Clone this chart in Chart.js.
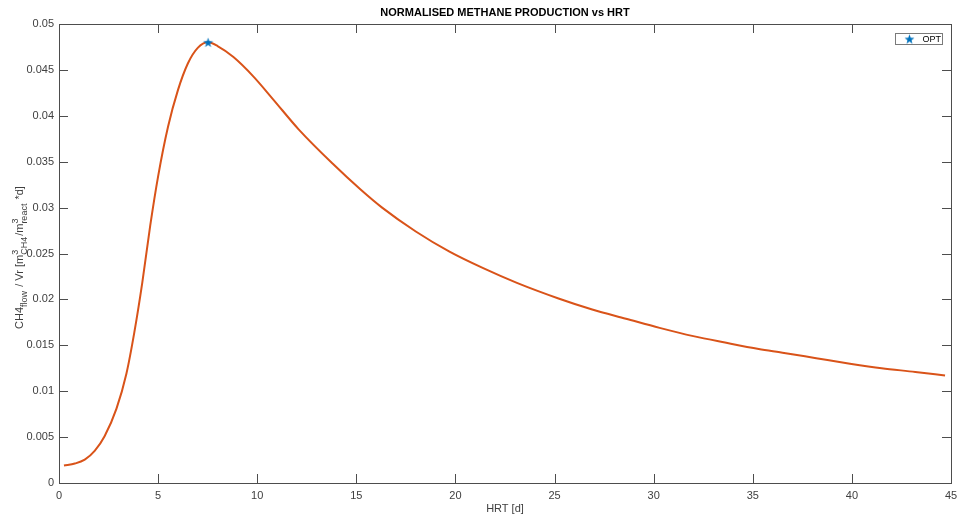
<!DOCTYPE html>
<html>
<head>
<meta charset="utf-8">
<title>Normalised methane production vs HRT</title>
<script src="https://cdn.jsdelivr.net/npm/chart.js@4.4.0/dist/chart.umd.min.js"></script>
<style>
  html, body { margin: 0; padding: 0; background: #fff; }
  #wrap { width: 957px; height: 515px; }
</style>
</head>
<body>
<div id="wrap"><canvas id="chart" width="957" height="515"></canvas></div>
<script>
// hydraulic retention time [d] and normalised CH4 production
const hrtDays = [0.25, 0.8, 1.3, 1.8, 2.3, 2.9, 3.4, 3.8, 4.2, 4.6, 5.0, 5.5, 6.0, 6.5, 7.0, 7.52,
  8.0, 8.8, 9.8, 10.8, 12.1, 13.8, 15.2, 16.3, 18.0, 19.7, 21.4, 23.1, 25.2, 26.9, 28.6,
  30.3, 32.0, 33.6, 35.3, 36.5, 38.2, 39.9, 41.5, 43.2, 44.7];
const methaneRate = [0.0019, 0.00212, 0.00255, 0.0035, 0.0051, 0.0081, 0.0119, 0.0164, 0.0218, 0.0280,
  0.0334, 0.0388, 0.0428, 0.0457, 0.0474, 0.0480,
  0.0476, 0.0464, 0.0443, 0.0418, 0.0385, 0.0348, 0.0320, 0.0300, 0.0274, 0.0252, 0.0234, 0.0218,
  0.0201, 0.0189, 0.0179, 0.0169, 0.0160, 0.0153, 0.0146, 0.0142, 0.0136, 0.0130, 0.0125, 0.0121, 0.0117];

// optimum point
const optHrt = [7.52];
const optRate = [0.0480];

const xTickValues = [0, 5, 10, 15, 20, 25, 30, 35, 40, 45];
const yTickValues = [0, 0.005, 0.01, 0.015, 0.02, 0.025, 0.03, 0.035, 0.04, 0.045, 0.05];

const AXIS_COLOR = "#4d4d4d";
const TEXT_COLOR = "#404040";
const LINE_COLOR = "#D95319";
const MARK_COLOR = "#0072BD";
const FONT = "'Liberation Sans', Arial, Helvetica, sans-serif";
const TITLE = "NORMALISED METHANE PRODUCTION vs HRT";

// filled pentagram used as the point style
function makeStar(size, color) {
  const c = document.createElement("canvas");
  c.width = size;
  c.height = size;
  const g = c.getContext("2d");
  const cx = size / 2, cy = size / 2 + 0.5;
  const R = size / 2 - 0.3, r = R * 0.4;
  g.beginPath();
  for (let i = 0; i < 10; i++) {
    const rad = i % 2 === 0 ? R : r;
    const a = -Math.PI / 2 + i * Math.PI / 5;
    const px = cx + rad * Math.cos(a), py = cy + rad * Math.sin(a);
    if (i === 0) g.moveTo(px, py); else g.lineTo(px, py);
  }
  g.closePath();
  g.fillStyle = color;
  g.fill();
  return c;
}
const starImg = makeStar(11, MARK_COLOR);

// title centred over the plot area
const plotTitle = {
  id: "plotTitle",
  afterDraw(chart) {
    const { ctx, chartArea: a } = chart;
    ctx.save();
    ctx.fillStyle = "#000";
    ctx.font = "bold 11px " + FONT;
    ctx.textAlign = "center";
    ctx.textBaseline = "middle";
    ctx.fillText(TITLE, (a.left + a.right) / 2, 12.5);
    ctx.restore();
  }
};

// box around the plot with inward ticks on all four sides
const axesBox = {
  id: "axesBox",
  afterDraw(chart) {
    const { ctx, chartArea: a, scales } = chart;
    const tl = 9;
    ctx.save();
    ctx.strokeStyle = AXIS_COLOR;
    ctx.lineWidth = 1;
    ctx.beginPath();
    xTickValues.forEach((v) => {
      const px = Math.round(scales.x.getPixelForValue(v)) + 0.5;
      ctx.moveTo(px, a.bottom); ctx.lineTo(px, a.bottom - tl);
      ctx.moveTo(px, a.top); ctx.lineTo(px, a.top + tl);
    });
    yTickValues.forEach((v) => {
      const py = Math.round(scales.y.getPixelForValue(v)) + 0.5;
      ctx.moveTo(a.left, py); ctx.lineTo(a.left + tl, py);
      ctx.moveTo(a.right, py); ctx.lineTo(a.right - tl, py);
    });
    ctx.stroke();
    ctx.strokeRect(Math.round(a.left) + 0.5, Math.round(a.top) + 0.5,
      Math.round(a.right - a.left), Math.round(a.bottom - a.top));

    // legend box, top right
    const lw = 47, lh = 11;
    const lx = Math.round(a.right - 9 - lw) + 0.5, ly = Math.round(a.top + 9) + 0.5;
    ctx.fillStyle = "#fff";
    ctx.fillRect(lx, ly, lw, lh);
    ctx.strokeStyle = "#7a7a7a";
    ctx.strokeRect(lx, ly, lw, lh);
    ctx.drawImage(starImg, lx + 8.5, ly);
    ctx.fillStyle = "#000";
    ctx.font = "9px " + FONT;
    ctx.textBaseline = "middle";
    ctx.textAlign = "left";
    ctx.fillText(chart.data.datasets[1].label, lx + 27, ly + lh / 2 + 0.5);
    ctx.restore();
  }
};

// rotated y-axis label with sub- and superscripts
const yLabel = {
  id: "yLabel",
  afterDraw(chart) {
    const { ctx, chartArea: a } = chart;
    const parts = [
      { t: "CH4" }, { sub: "flow" }, { t: " / Vr [m" }, { sup: "3", sub: "CH4" },
      { t: "/m" }, { sup: "3", sub: "react" }, { t: " *d]" }
    ];
    const big = "11px " + FONT, small = "9px " + FONT;
    ctx.save();
    const widthOf = (p) => {
      if (p.t) { ctx.font = big; return ctx.measureText(p.t).width; }
      ctx.font = small;
      return Math.max(p.sub ? ctx.measureText(p.sub).width : 0, p.sup ? ctx.measureText(p.sup).width : 0) + 1;
    };
    const total = parts.reduce((s, p) => s + widthOf(p), 0);
    ctx.translate(23, (a.top + a.bottom) / 2 + 4);
    ctx.rotate(-Math.PI / 2);
    ctx.fillStyle = TEXT_COLOR;
    ctx.textBaseline = "alphabetic";
    ctx.textAlign = "left";
    let x = -total / 2;
    parts.forEach((p) => {
      const w = widthOf(p);
      if (p.t) {
        ctx.font = big;
        ctx.fillText(p.t, x, 0);
      } else {
        ctx.font = small;
        if (p.sup) ctx.fillText(p.sup, x, -5);
        if (p.sub) ctx.fillText(p.sub, x, 3.5);
      }
      x += w;
    });
    ctx.restore();
  }
};

const ctx = document.getElementById("chart").getContext("2d");
new Chart(ctx, {
  type: "scatter",
  data: {
    datasets: [
      {
        label: "CH4 production",
        data: hrtDays.map((d, i) => ({ x: d, y: methaneRate[i] })),
        showLine: true,
        borderColor: LINE_COLOR,
        borderWidth: 2,
        pointRadius: 0,
        cubicInterpolationMode: "monotone",
        order: 2
      },
      {
        label: "OPT",
        data: optHrt.map((d, i) => ({ x: d, y: optRate[i] })),
        pointStyle: starImg,
        pointRadius: 5,
        showLine: false,
        order: 1
      }
    ]
  },
  options: {
    responsive: false,
    animation: false,
    devicePixelRatio: 1,
    layout: { padding: { left: 0, right: 0, top: 24, bottom: 0 } },
    plugins: {
      legend: { display: false },
      tooltip: { enabled: false },
      title: { display: false }
    },
    scales: {
      x: {
        type: "linear",
        min: 0,
        max: 45,
        afterBuildTicks: (s) => { s.ticks = xTickValues.map((v) => ({ value: v })); },
        afterFit: (s) => { s.height = 32; s.paddingLeft = 0; s.paddingRight = 5; },
        grid: { display: false, drawTicks: false },
        border: { display: false },
        ticks: { color: TEXT_COLOR, padding: 6, font: { family: FONT, size: 11 }, maxRotation: 0 },
        title: {
          display: true,
          text: "HRT [d]",
          color: TEXT_COLOR,
          font: { family: FONT, size: 11 },
          padding: { top: 0, bottom: -1 }
        }
      },
      y: {
        type: "linear",
        min: 0,
        max: 0.05,
        afterBuildTicks: (s) => { s.ticks = yTickValues.map((v) => ({ value: v })); },
        afterFit: (s) => { s.width = 59; },
        grid: { display: false, drawTicks: false },
        border: { display: false },
        ticks: {
          color: TEXT_COLOR,
          padding: 5,
          font: { family: FONT, size: 11 },
          callback: (v) => String(Number(v.toFixed(3)))
        }
      }
    }
  },
  plugins: [axesBox, yLabel, plotTitle]
});
</script>
</body>
</html>
